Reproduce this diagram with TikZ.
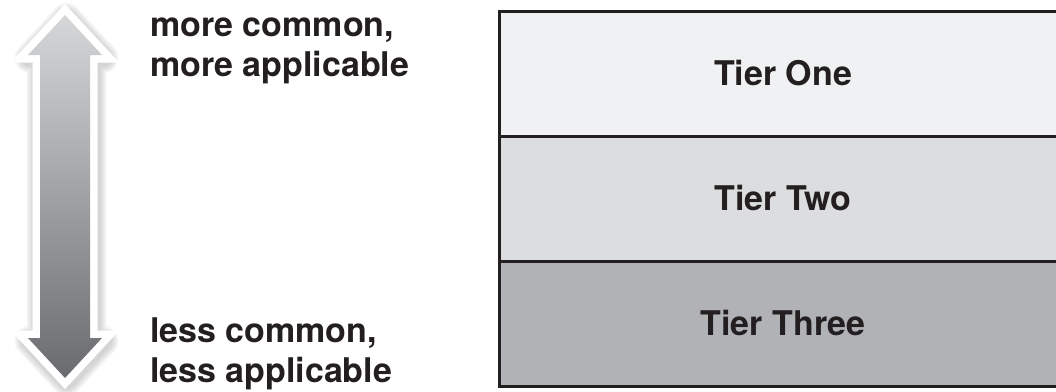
\documentclass[tikz,border=0pt]{standalone}
\usepackage{fontspec}
\setmainfont{TeX Gyre Heros}
\definecolor{ink}{HTML}{231F20}
\definecolor{rowA}{HTML}{F0F1F2}
\definecolor{rowB}{HTML}{DCDDDF}
\definecolor{rowC}{HTML}{B1B2B6}
\definecolor{arrTop}{HTML}{D6D7D9}
\definecolor{arrBot}{HTML}{6A6B6F}
\newcommand\arrowshape[1]{\path[#1] (65,15) -- (102,55) -- (90,55) -- (90,338) -- (102,338) -- (65,378) -- (28,338) -- (40,338) -- (40,55) -- (28,55) -- cycle;}
\tikzset{
  lbl/.style={anchor=base west, inner sep=0pt, text=ink, font=\fontsize{34}{40}\selectfont\bfseries},
  tierlbl/.style={anchor=base, inner sep=0pt, text=ink, font=\fontsize{34}{40}\selectfont\bfseries},
  rowbox/.style={draw=ink, line width=3.2pt}
}
\begin{document}
\begin{tikzpicture}[x=1pt,y=-1pt]
\useasboundingbox (0,0) rectangle (1056,391);
\begin{scope}
\clip (0,0) rectangle (1056,391);
% shadow of arrow
\begin{scope}[shift={(1.5,3)}]
\foreach \w in {30,27,24,21,18} {
  \arrowshape{draw=black, line width=\w pt, line join=round, draw opacity=0.035}
}
\end{scope}
% white outline
\arrowshape{draw=white, fill=white, line width=15pt, line join=miter}
% gradient body
\arrowshape{top color=arrTop, bottom color=arrBot}
% tiers
\path[rowbox, fill=rowA] (499.5,11.5) rectangle (1075,136.5);
\path[rowbox, fill=rowB] (499.5,136.5) rectangle (1075,261.5);
\path[rowbox, fill=rowC] (499.5,261.5) rectangle (1075,386.5);
\node[lbl] (l1) at (150,342) {less common,};
\node[lbl] (l2) at (150,382) {less applicable};
\end{scope}
\node[tierlbl] (t1) at (783,85) {Tier One};
\node[tierlbl] (t2) at (783,210) {Tier Two};
\node[tierlbl] (t3) at (783,335) {Tier Three};
\node[lbl] (m1) at (150,36) {more common,};
\node[lbl] (m2) at (150,76) {more applicable};
\end{tikzpicture}
\end{document}
